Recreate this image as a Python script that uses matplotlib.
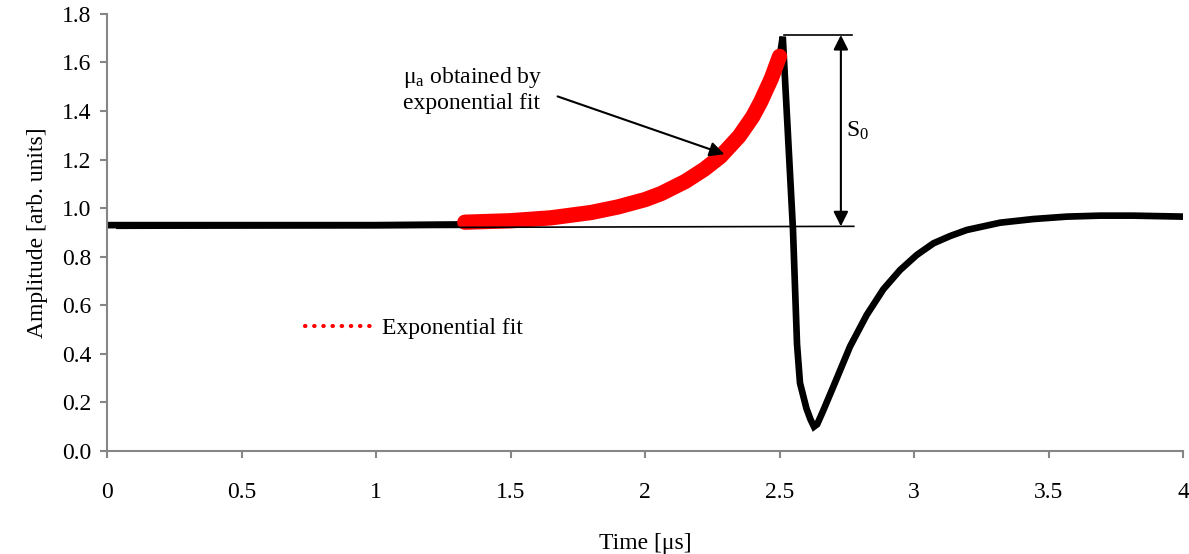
import matplotlib
matplotlib.use("Agg")
import matplotlib.pyplot as plt
from matplotlib.lines import Line2D

plt.rcParams['font.family'] = ['Liberation Serif', 'DejaVu Serif']
plt.rcParams['mathtext.fontset'] = 'custom'
plt.rcParams['mathtext.rm'] = 'Liberation Serif'
plt.rcParams['mathtext.it'] = 'Liberation Serif'

# measured signal (black)
sig_t = [0.0, 0.5, 1.0, 1.33, 1.5, 1.65, 1.8, 1.9, 2.0, 2.06, 2.15, 2.22,
         2.28, 2.35, 2.4, 2.43, 2.47, 2.5, 2.512, 2.55, 2.565, 2.576, 2.60,
         2.615, 2.628, 2.64, 2.66, 2.70, 2.762, 2.824, 2.886, 2.948, 3.01,
         3.072, 3.134, 3.196, 3.32, 3.443, 3.568, 3.691, 3.815, 4.0]
sig_amp = [0.93, 0.93, 0.93, 0.933, 0.942, 0.955, 0.978, 1.0, 1.03, 1.055,
           1.105, 1.155, 1.207, 1.29, 1.37, 1.43, 1.53, 1.62, 1.706, 0.91,
           0.44, 0.28, 0.175, 0.13, 0.10, 0.11, 0.16, 0.265, 0.43, 0.56,
           0.666, 0.745, 0.807, 0.855, 0.885, 0.91, 0.94, 0.955, 0.965,
           0.969, 0.969, 0.965]

# exponential fit (red)
fit_t = [1.33, 1.5, 1.65, 1.8, 1.9, 2.0, 2.06, 2.15, 2.22, 2.28, 2.35,
         2.4, 2.43, 2.47, 2.5]
fit_amp = [0.942, 0.948, 0.960, 0.982, 1.005, 1.035, 1.06, 1.11, 1.16,
           1.212, 1.296, 1.376, 1.438, 1.535, 1.625]

# S0 construction lines
base_t = [0.037, 2.776]
base_amp = [0.917, 0.925]
peak_t = [2.515, 2.769]
peak_amp = [1.713, 1.713]
s0_t = 2.728

fig = plt.figure(figsize=(11.89, 5.54), dpi=100)
ax = fig.add_axes([0.090, 0.186, 0.905, 0.789])

ax.plot(sig_t, sig_amp, color='black', lw=4.8, solid_joinstyle='miter')
ax.plot(fit_t, fit_amp, color='red', lw=11, solid_capstyle='round',
        solid_joinstyle='round')

ax.plot(base_t, base_amp, color='black', lw=1.2)
ax.plot(peak_t, peak_amp, color='black', lw=1.2)
ax.annotate('', xy=(s0_t, peak_amp[0]), xytext=(s0_t, base_amp[1]),
            arrowprops=dict(arrowstyle='<|-|>', color='black', lw=1.5,
                            mutation_scale=22, shrinkA=0, shrinkB=0))
ax.text(2.748, 1.317, 'S$_{\\mathregular{0}}$', fontsize=17, va='center')

ax.annotate('', xy=(2.295, 1.222), xytext=(1.675, 1.46),
            arrowprops=dict(arrowstyle='-|>', color='black', lw=1.5,
                            mutation_scale=22, shrinkA=0, shrinkB=0))
ax.text(1.10, 1.487, 'μ$_{\\mathregular{a}}$ obtained by\nexponential fit',
        fontsize=17, va='center', ha='left', linespacing=1.2)

h = Line2D([], [], color='red', lw=3.0, linestyle=(0, (0.1, 2.1)),
           dash_capstyle='round')
ax.legend([h], ['Exponential fit'], loc='center left',
          bbox_to_anchor=(0.184, 0.281), frameon=False, fontsize=17,
          borderpad=0, borderaxespad=0, handlelength=2.75, handletextpad=0.5)

ax.set_xlim(0, 4)
ax.set_ylim(0, 1.8)
ax.set_xticks([0, 0.5, 1, 1.5, 2, 2.5, 3, 3.5, 4])
ax.set_xticklabels(['0', '0.5', '1', '1.5', '2', '2.5', '3', '3.5', '4'])
ax.set_yticks([0.0, 0.2, 0.4, 0.6, 0.8, 1.0, 1.2, 1.4, 1.6, 1.8])
ax.set_yticklabels(['%.1f' % v for v in ax.get_yticks()])
ax.set_xlabel('Time [μs]', fontsize=17, labelpad=22)
ax.set_ylabel('Amplitude [arb. units]', fontsize=17, labelpad=10)

for s in ['top', 'right']:
    ax.spines[s].set_visible(False)
for s in ['left', 'bottom']:
    ax.spines[s].set_color('#868686')
    ax.spines[s].set_linewidth(1.5)
ax.tick_params(colors='#868686', labelcolor='black', labelsize=17,
               length=5, width=1.5, direction='out')
ax.tick_params(axis='x', pad=17)
ax.tick_params(axis='y', pad=6)

fig.savefig('out.png', dpi=100)
